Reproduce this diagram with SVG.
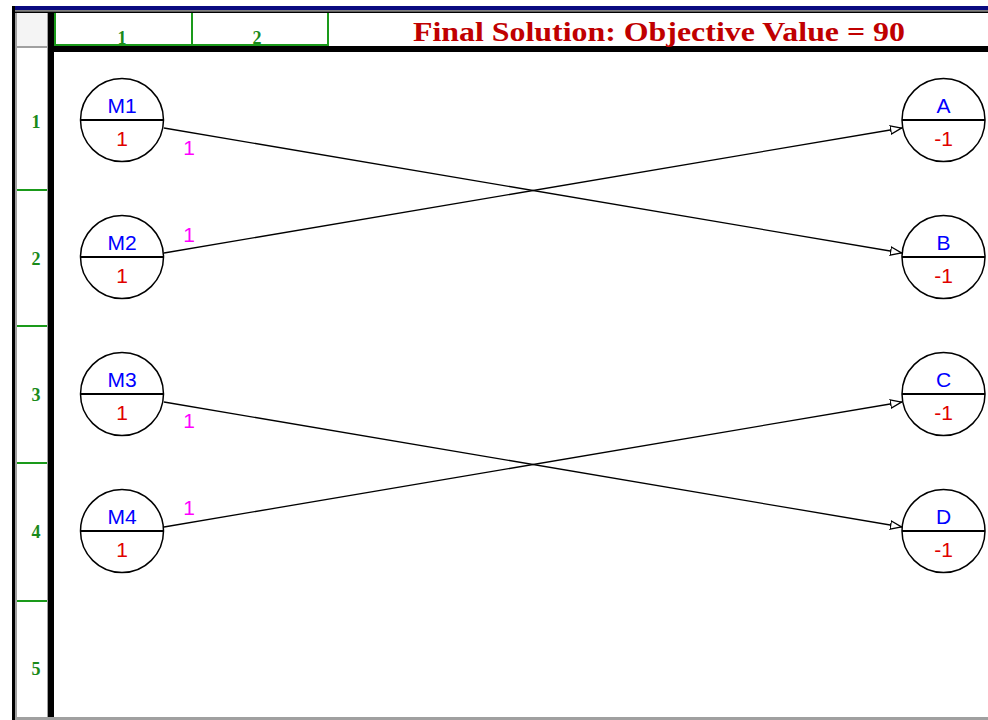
<svg xmlns="http://www.w3.org/2000/svg" width="988" height="720" viewBox="0 0 988 720">
<style>
.hdr{font-family:"Liberation Serif",serif;font-weight:bold;fill:#1a8a1a;font-size:18px;text-anchor:middle}
.circ{fill:#fff;stroke:#000;stroke-width:1.5}
.mid{stroke:#000;stroke-width:2}
.nm{font-family:"Liberation Sans",Arial,sans-serif;font-size:21px;fill:#0000ff;text-anchor:middle}
.val{font-family:"Liberation Sans",Arial,sans-serif;font-size:21px;fill:#e00000;text-anchor:middle}
.lbl{font-family:"Liberation Sans",Arial,sans-serif;font-size:21px;fill:#ff00ff;text-anchor:middle}
.edge{stroke:#000;stroke-width:1.3;fill:none;marker-end:url(#arr)}
.grn{stroke:#1a9a1a;stroke-width:2}
</style>
<defs>
<marker id="arr" viewBox="0 0 12 10" refX="12" refY="5" markerWidth="12" markerHeight="10" markerUnits="userSpaceOnUse" orient="auto">
<path d="M0.5,0.8 L11.5,5 L0.5,9.2 Z" fill="#fff" stroke="#000" stroke-width="1.3"/>
</marker>
</defs>
<rect width="988" height="720" fill="#fff"/>
<g id="frame">
<rect x="12" y="6" width="976" height="4" fill="#0a0a80"/>
<rect x="12" y="10" width="976" height="1.5" fill="#808080"/>
<rect x="12" y="11.5" width="976" height="1.5" fill="#000"/>
<rect x="12" y="6" width="3" height="714" fill="#000"/>
<rect x="15" y="13" width="2" height="707" fill="#a0a0a0"/>
<rect x="17" y="13" width="31" height="33" fill="#f4f4f4"/>
<rect x="47" y="13" width="1" height="707" fill="#a0a0a0"/>
<rect x="48" y="13" width="6" height="707" fill="#000"/>
<rect x="54" y="46" width="934" height="6" fill="#000"/>
<rect x="17" y="46" width="31" height="2" fill="#a0a0a0"/>
<line class="grn" x1="55" y1="13" x2="55" y2="46"/>
<line class="grn" x1="55" y1="45" x2="328" y2="45"/>
<line class="grn" x1="192" y1="13" x2="192" y2="46"/>
<line class="grn" x1="328" y1="13" x2="328" y2="46"/>
<line class="grn" x1="17" y1="190" x2="47" y2="190"/>
<line class="grn" x1="17" y1="326" x2="47" y2="326"/>
<line class="grn" x1="17" y1="463" x2="47" y2="463"/>
<line class="grn" x1="17" y1="601" x2="47" y2="601"/>
<rect x="17" y="717" width="971" height="3" fill="#a0a0a0"/>
<text class="hdr" x="122" y="44">1</text>
<text class="hdr" x="257" y="44">2</text>
<text class="hdr" x="36" y="128">1</text>
<text class="hdr" x="36" y="265">2</text>
<text class="hdr" x="36" y="401">3</text>
<text class="hdr" x="36" y="538">4</text>
<text class="hdr" x="36" y="675">5</text>
<text x="413" y="41" font-family="'Liberation Serif',serif" font-weight="bold" font-size="27" fill="#c00000" textLength="492" lengthAdjust="spacingAndGlyphs">Final Solution: Objective Value = 90</text>
</g>
<g id="connectors">
<line class="edge" x1="164" y1="128" x2="902" y2="253"/>
<line class="edge" x1="164" y1="253" x2="902" y2="128"/>
<line class="edge" x1="164" y1="402" x2="902" y2="527"/>
<line class="edge" x1="164" y1="527" x2="902" y2="402"/>
<text class="lbl" x="189" y="155">1</text>
<text class="lbl" x="189" y="242">1</text>
<text class="lbl" x="189" y="428">1</text>
<text class="lbl" x="189" y="515">1</text>
</g>
<g id="M1"><circle class="circ" cx="122" cy="120" r="41.5"/><line class="mid" x1="80.5" y1="120" x2="163.5" y2="120"/><text class="nm" x="122" y="113">M1</text><text class="val" x="122" y="146">1</text></g>
<g id="M2"><circle class="circ" cx="122" cy="257" r="41.5"/><line class="mid" x1="80.5" y1="257" x2="163.5" y2="257"/><text class="nm" x="122" y="250">M2</text><text class="val" x="122" y="283">1</text></g>
<g id="M3"><circle class="circ" cx="122" cy="394" r="41.5"/><line class="mid" x1="80.5" y1="394" x2="163.5" y2="394"/><text class="nm" x="122" y="387">M3</text><text class="val" x="122" y="420">1</text></g>
<g id="M4"><circle class="circ" cx="122" cy="531" r="41.5"/><line class="mid" x1="80.5" y1="531" x2="163.5" y2="531"/><text class="nm" x="122" y="524">M4</text><text class="val" x="122" y="557">1</text></g>
<g id="A"><circle class="circ" cx="943.5" cy="120" r="41.5"/><line class="mid" x1="902" y1="120" x2="985" y2="120"/><text class="nm" x="943.5" y="113">A</text><text class="val" x="943.5" y="146">-1</text></g>
<g id="B"><circle class="circ" cx="943.5" cy="257" r="41.5"/><line class="mid" x1="902" y1="257" x2="985" y2="257"/><text class="nm" x="943.5" y="250">B</text><text class="val" x="943.5" y="283">-1</text></g>
<g id="C"><circle class="circ" cx="943.5" cy="394" r="41.5"/><line class="mid" x1="902" y1="394" x2="985" y2="394"/><text class="nm" x="943.5" y="387">C</text><text class="val" x="943.5" y="420">-1</text></g>
<g id="D"><circle class="circ" cx="943.5" cy="531" r="41.5"/><line class="mid" x1="902" y1="531" x2="985" y2="531"/><text class="nm" x="943.5" y="524">D</text><text class="val" x="943.5" y="557">-1</text></g>
</svg>
